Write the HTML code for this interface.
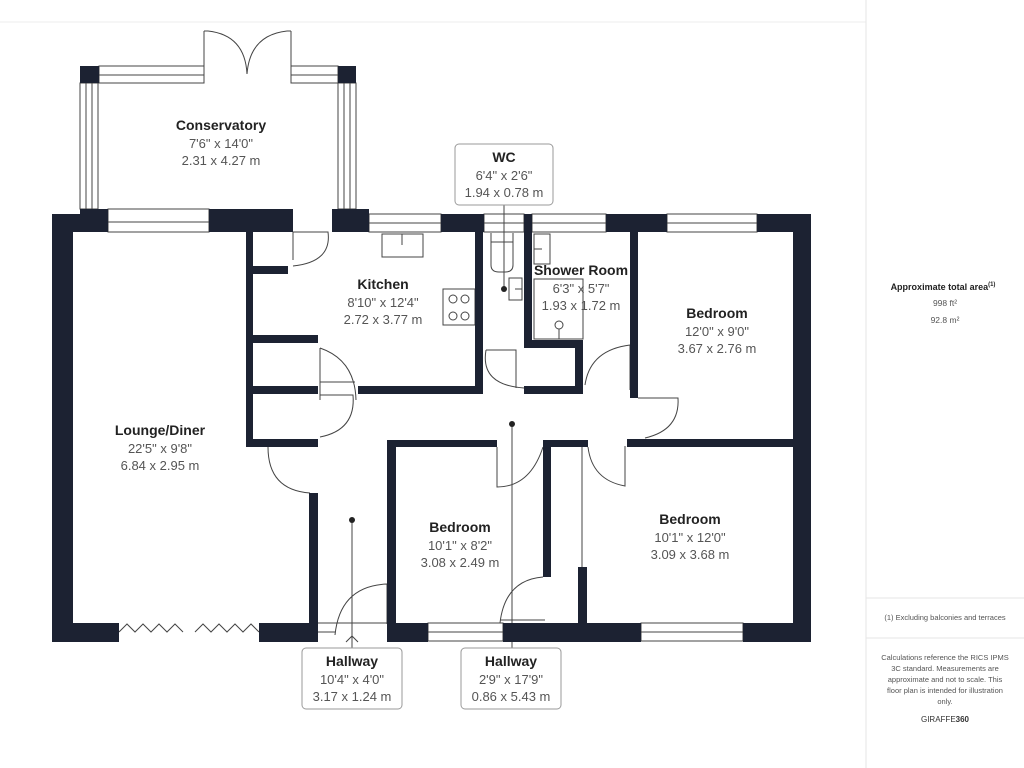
<!DOCTYPE html>
<html><head><meta charset="utf-8"><style>
html,body{margin:0;padding:0;background:#fff;}
svg{display:block;}
.t{font-family:"Liberation Sans",sans-serif;}
.b{font-weight:bold;fill:#222;font-size:14px;}
.d{fill:#555;font-size:13px;}
</style></head><body>
<svg width="1024" height="768" viewBox="0 0 1024 768" xmlns="http://www.w3.org/2000/svg" class="t">
<rect width="1024" height="768" fill="#fff"/>
<line x1="0" y1="22" x2="866" y2="22" stroke="#eee"/>
<line x1="866" y1="0" x2="866" y2="768" stroke="#e6e6e6"/>
<line x1="866" y1="598" x2="1024" y2="598" stroke="#e6e6e6"/>
<line x1="866" y1="638" x2="1024" y2="638" stroke="#e6e6e6"/>
<g fill="none" stroke="#444" stroke-width="1">
 <!-- conservatory frames -->
 <rect x="99" y="66" width="105" height="17"/><line x1="99" y1="75" x2="204" y2="75"/>
 <rect x="291" y="66" width="47" height="17"/><line x1="291" y1="75" x2="338" y2="75"/>
 <line x1="204" y1="31" x2="204" y2="83"/><line x1="291" y1="31" x2="291" y2="83"/>
 <line x1="204" y1="31" x2="208" y2="31"/><line x1="287" y1="31" x2="291" y2="31"/>
 <path d="M208 31 Q245 35 247 74"/><path d="M287 31 Q250 35 247 74"/>
 <rect x="80" y="83" width="18" height="126"/><line x1="86" y1="83" x2="86" y2="209"/><line x1="92" y1="83" x2="92" y2="209"/>
 <rect x="338" y="83" width="18" height="126"/><line x1="344" y1="83" x2="344" y2="209"/><line x1="350" y1="83" x2="350" y2="209"/>
 <!-- windows -->
 <rect x="108" y="209" width="101" height="23"/><line x1="108" y1="222" x2="209" y2="222"/>
 <rect x="369" y="214" width="72" height="18"/><line x1="369" y1="223" x2="441" y2="223"/>
 <rect x="484" y="214" width="40" height="18"/><line x1="484" y1="223" x2="524" y2="223"/>
 <rect x="532" y="214" width="74" height="18"/><line x1="532" y1="223" x2="606" y2="223"/>
 <rect x="667" y="214" width="90" height="18"/><line x1="667" y1="223" x2="757" y2="223"/>
 <rect x="428" y="623" width="75" height="18"/><line x1="428" y1="632" x2="503" y2="632"/>
 <rect x="641" y="623" width="102" height="18"/><line x1="641" y1="632" x2="743" y2="632"/>
 <!-- bifolds -->
 <path d="M119 632 l8 -8 l8 8 l8 -8 l8 8 l8 -8 l8 8 l8 -8 l8 8"/>
 <path d="M195 632 l8 -8 l8 8 l8 -8 l8 8 l8 -8 l8 8 l8 -8 l8 8"/>
 <!-- fixtures -->
 <rect x="382" y="234" width="41" height="23"/><line x1="402" y1="234" x2="402" y2="245"/>
 <rect x="443" y="289" width="32" height="36"/>
 <circle cx="453" cy="299" r="4"/><circle cx="465" cy="299" r="4"/><circle cx="453" cy="316" r="4"/><circle cx="465" cy="316" r="4"/>
 <path d="M491 233 v32 q0 7 8 7 h6 q8 0 8 -7 v-32"/><line x1="491" y1="242" x2="513" y2="242"/>
 <rect x="509" y="278" width="13" height="22"/><line x1="515" y1="289" x2="522" y2="289"/>
 <rect x="534" y="234" width="16" height="30"/><line x1="534" y1="249" x2="542" y2="249"/>
 <rect x="534" y="279" width="49" height="60"/><circle cx="559" cy="325" r="4"/><line x1="559" y1="329" x2="559" y2="339"/>
 <!-- doors -->
 <path d="M293 232 v28 M293 232 h35 Q332 262 293 266"/>
 <path d="M320 348 v52 M320 348 Q355 360 356 400 M320 382 h35"/>
 <path d="M320 395 h33 Q356 430 320 437"/>
 <path d="M268 447 Q268 490 310 493"/>
 <path d="M486 350 h30 v38 M486 350 Q480 385 524 388"/>
 <path d="M630 345 Q590 350 585 385 M630 345 v45"/>
 <path d="M638 398 h40 Q680 430 645 438"/>
 <path d="M588 447 Q592 480 625 486 v-40"/>
 <path d="M497 447 v40 Q530 487 543 447"/>
 <path d="M543 577 Q505 580 500 623 M500 620 h45"/>
 <path d="M387 584 Q340 586 335 635 M387 584 v40 M318 623 h70 M318 632 h17"/>
 <line x1="582" y1="447" x2="582" y2="567"/>
 <!-- label leaders -->
 <line x1="504" y1="205" x2="504" y2="289"/>
 <line x1="512" y1="424" x2="512" y2="648"/>
 <line x1="352" y1="520" x2="352" y2="648"/>
 <path d="M346 642 l6 -6 l6 6"/>
</g>
<circle cx="504" cy="289" r="3" fill="#222"/>
<circle cx="512" cy="424" r="3" fill="#222"/>
<circle cx="352" cy="520" r="3" fill="#222"/>
<g fill="#1c2232">
 <!-- conservatory posts -->
 <rect x="80" y="66" width="19" height="17"/><rect x="338" y="66" width="18" height="17"/>
 <!-- outer walls -->
 <rect x="52" y="214" width="21" height="428"/>
 <rect x="80" y="209" width="28" height="23"/><rect x="52" y="214" width="56" height="18"/>
 <rect x="209" y="209" width="84" height="23"/>
 <rect x="332" y="209" width="37" height="23"/>
 <rect x="441" y="214" width="43" height="18"/>
 <rect x="524" y="214" width="8" height="18"/>
 <rect x="606" y="214" width="61" height="18"/>
 <rect x="757" y="214" width="54" height="18"/>
 <rect x="793" y="214" width="18" height="428"/>
 <rect x="52" y="623" width="67" height="19"/>
 <rect x="259" y="623" width="59" height="19"/>
 <rect x="387" y="623" width="41" height="19"/>
 <rect x="503" y="623" width="138" height="19"/>
 <rect x="743" y="623" width="68" height="19"/>
 <!-- interior -->
 <rect x="246" y="232" width="7" height="215"/>
 <rect x="253" y="266" width="35" height="8"/>
 <rect x="253" y="335" width="65" height="8"/>
 <rect x="253" y="386" width="65" height="8"/>
 <rect x="246" y="439" width="72" height="8"/>
 <rect x="309" y="493" width="9" height="130"/>
 <rect x="358" y="386" width="125" height="8"/>
 <rect x="475" y="232" width="8" height="162"/>
 <rect x="524" y="232" width="8" height="116"/>
 <rect x="524" y="340" width="59" height="8"/>
 <rect x="575" y="340" width="8" height="54"/>
 <rect x="524" y="386" width="59" height="8"/>
 <rect x="630" y="232" width="8" height="166"/>
 <rect x="627" y="439" width="184" height="8"/>
 <rect x="387" y="440" width="110" height="7"/>
 <rect x="387" y="440" width="9" height="183"/>
 <rect x="543" y="440" width="45" height="7"/>
 <rect x="543" y="440" width="8" height="137"/>
 <rect x="578" y="567" width="9" height="56"/>
</g>
<!-- WC and hallway boxes -->
<rect x="455" y="144" width="98" height="61" rx="4" fill="#fff" stroke="#999"/>
<rect x="302" y="648" width="100" height="61" rx="4" fill="#fff" stroke="#999"/>
<rect x="461" y="648" width="100" height="61" rx="4" fill="#fff" stroke="#999"/>
<g text-anchor="middle">
 <text x="221" y="130" class="b">Conservatory</text><text x="221" y="148" class="d">7'6" x 14'0"</text><text x="221" y="165" class="d">2.31 x 4.27 m</text>
 <text x="504" y="162" class="b">WC</text><text x="504" y="180" class="d">6'4" x 2'6"</text><text x="504" y="197" class="d">1.94 x 0.78 m</text>
 <text x="383" y="289" class="b">Kitchen</text><text x="383" y="307" class="d">8'10" x 12'4"</text><text x="383" y="324" class="d">2.72 x 3.77 m</text>
 <text x="581" y="275" class="b">Shower Room</text><text x="581" y="293" class="d">6'3" x 5'7"</text><text x="581" y="310" class="d">1.93 x 1.72 m</text>
 <text x="717" y="318" class="b">Bedroom</text><text x="717" y="336" class="d">12'0" x 9'0"</text><text x="717" y="353" class="d">3.67 x 2.76 m</text>
 <text x="160" y="435" class="b">Lounge/Diner</text><text x="160" y="453" class="d">22'5" x 9'8"</text><text x="160" y="470" class="d">6.84 x 2.95 m</text>
 <text x="460" y="532" class="b">Bedroom</text><text x="460" y="550" class="d">10'1" x 8'2"</text><text x="460" y="567" class="d">3.08 x 2.49 m</text>
 <text x="690" y="524" class="b">Bedroom</text><text x="690" y="542" class="d">10'1" x 12'0"</text><text x="690" y="559" class="d">3.09 x 3.68 m</text>
 <text x="352" y="666" class="b">Hallway</text><text x="352" y="684" class="d">10'4" x 4'0"</text><text x="352" y="701" class="d">3.17 x 1.24 m</text>
 <text x="511" y="666" class="b">Hallway</text><text x="511" y="684" class="d">2'9" x 17'9"</text><text x="511" y="701" class="d">0.86 x 5.43 m</text>
 <text x="943" y="290" font-size="9" font-weight="bold" fill="#222">Approximate total area<tspan font-size="6" dy="-4">(1)</tspan></text>
 <text x="945" y="306" font-size="8.5" fill="#555">998 ft²</text>
 <text x="945" y="323" font-size="8.5" fill="#555">92.8 m²</text>
 <text x="945" y="620" font-size="7.5" fill="#555">(1) Excluding balconies and terraces</text>
 <text x="945" y="660" font-size="7.5" fill="#555">Calculations reference the RICS IPMS</text>
 <text x="945" y="671" font-size="7.5" fill="#555">3C standard. Measurements are</text>
 <text x="945" y="682" font-size="7.5" fill="#555">approximate and not to scale. This</text>
 <text x="945" y="693" font-size="7.5" fill="#555">floor plan is intended for illustration</text>
 <text x="945" y="704" font-size="7.5" fill="#555">only.</text>
 <text x="945" y="722" font-size="8" fill="#333">GIRAFFE<tspan font-weight="bold">360</tspan></text>
</g>
</svg>
</body></html>
